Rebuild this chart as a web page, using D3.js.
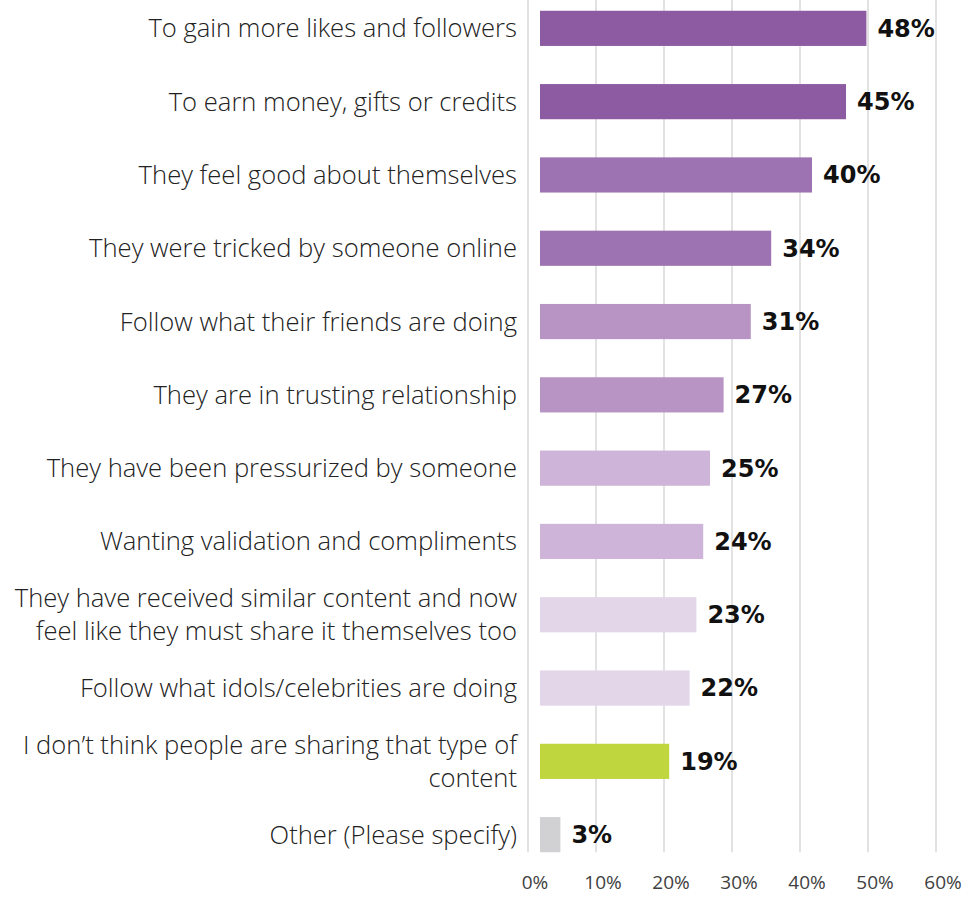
<!DOCTYPE html>
<html>
<head>
<meta charset="utf-8">
<script src="https://cdn.jsdelivr.net/npm/d3@7"></script>
<style>
  body { margin: 0; background: #fff; }
  .cat { font-family: "Open Sans", sans-serif; font-weight: 300; font-size: 25.6px; fill: #222; }
  .val { font-family: "DejaVu Sans", sans-serif; font-weight: 700; font-size: 24px; fill: #111; }
  .tick-label { font-family: "Open Sans", sans-serif; font-weight: 400; font-size: 19px; fill: #404040; }
</style>
</head>
<body>
<svg class="chart" width="968" height="897"></svg>
<script>
// categories, top to bottom (lines split where the label wraps)
const categories = [
  ["To gain more likes and followers"],
  ["To earn money, gifts or credits"],
  ["They feel good about themselves"],
  ["They were tricked by someone online"],
  ["Follow what their friends are doing"],
  ["They are in trusting relationship"],
  ["They have been pressurized by someone"],
  ["Wanting validation and compliments"],
  ["They have received similar content and now", "feel like they must share it themselves too"],
  ["Follow what idols/celebrities are doing"],
  ["I don\u2019t think people are sharing that type of", "content"],
  ["Other (Please specify)"]
];
const values = [48, 45, 40, 34, 31, 27, 25, 24, 23, 22, 19, 3];
const barColors = ["#8d5ba2", "#8d5ba2", "#9e73b1", "#9e73b1", "#b894c4", "#b894c4",
  "#cdb4d8", "#cdb4d8", "#e3d6e9", "#e3d6e9", "#bfd63f", "#d1d1d3"];
const ticks = [0, 10, 20, 30, 40, 50, 60];

const svg = d3.select(".chart");
const ids = d3.range(values.length);

const x = d3.scaleLinear().domain([0, 60]).range([540, 948]);
const y = d3.scaleBand().domain(ids).range([-8.3, 871.3])
  .paddingInner(0.52).paddingOuter(0.26);

const plotBottom = y(ids[ids.length - 1]) + y.bandwidth();

// gridlines (sit a little left of the bar origin, as in the source)
svg.append("g")
  .selectAll("line")
  .data(ticks)
  .enter()
  .append("line")
  .attr("x1", function (d) { return x(d) - 12; })
  .attr("x2", function (d) { return x(d) - 12; })
  .attr("y1", 0)
  .attr("y2", plotBottom)
  .attr("stroke", "#d9d9d9")
  .attr("stroke-width", 1.5);

// axis labels
svg.append("g")
  .selectAll("text")
  .data(ticks)
  .enter()
  .append("text")
  .attr("class", "tick-label")
  .attr("x", function (d) { return x(d) - 5; })
  .attr("y", 882)
  .attr("dy", "0.35em")
  .attr("text-anchor", "middle")
  .text(function (d) { return d + "%"; });

// bars
svg.append("g")
  .selectAll("rect")
  .data(ids)
  .enter()
  .append("rect")
  .attr("x", x(0))
  .attr("y", function (i) { return y(i); })
  .attr("width", function (i) { return x(values[i]) - x(0); })
  .attr("height", y.bandwidth())
  .attr("fill", function (i) { return barColors[i]; });

// value labels
svg.append("g")
  .selectAll("text")
  .data(ids)
  .enter()
  .append("text")
  .attr("class", "val")
  .attr("x", function (i) { return x(values[i]) + 11; })
  .attr("y", function (i) { return y(i) + y.bandwidth() / 2; })
  .attr("dy", "0.35em")
  .text(function (i) { return values[i] + "%"; });

// category labels
const lineH = 33;
const cats = svg.append("g")
  .selectAll("text")
  .data(ids)
  .enter()
  .append("text")
  .attr("class", "cat")
  .attr("text-anchor", "end")
  .attr("y", function (i) {
    return y(i) + y.bandwidth() / 2 - (categories[i].length - 1) * lineH / 2;
  });

cats.selectAll("tspan")
  .data(function (i) { return categories[i]; })
  .enter()
  .append("tspan")
  .attr("x", x(0) - 23)
  .attr("dy", function (d, j) { return j === 0 ? "0.35em" : lineH; })
  .text(function (d) { return d; });
</script>
</body>
</html>
